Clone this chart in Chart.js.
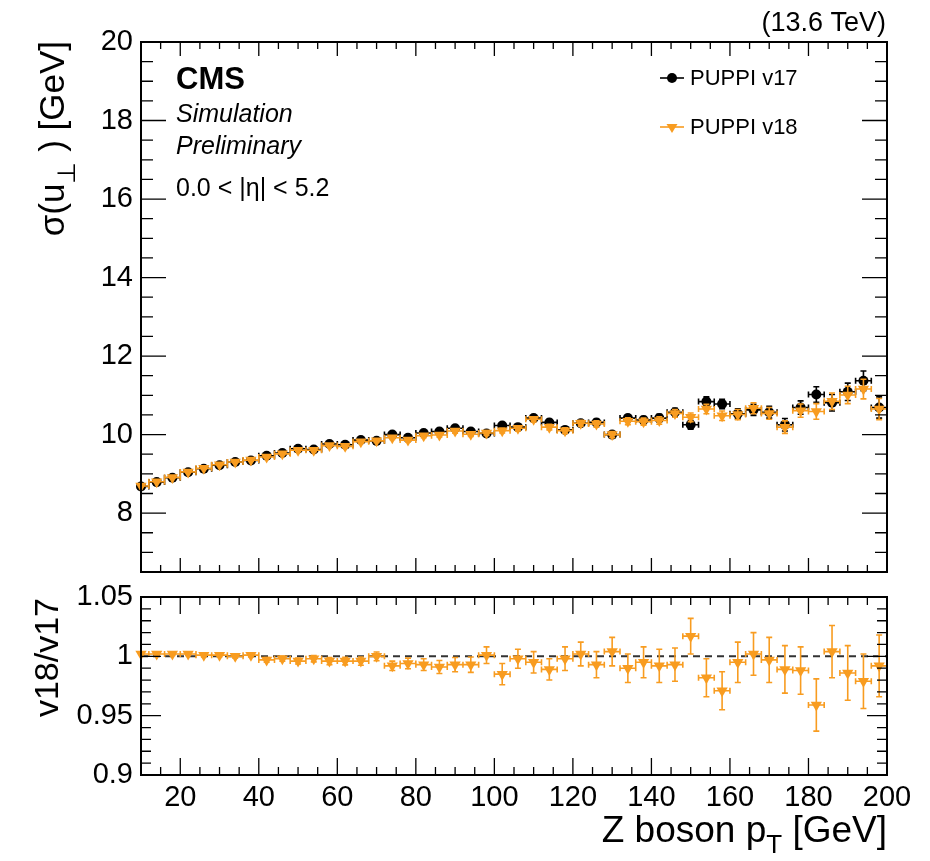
<!DOCTYPE html>
<html>
<head>
<meta charset="utf-8">
<script src="https://cdn.jsdelivr.net/npm/chart.js@4.4.1/dist/chart.umd.min.js"></script>
<style>
  html, body { margin: 0; padding: 0; background: #fff; }
  #wrap { position: relative; width: 930px; height: 861px; overflow: hidden; }
  #top { position: absolute; left: 0; top: 0; }
  #bottom { position: absolute; left: 0; top: 575px; }
</style>
</head>
<body>
<div id="wrap">
  <canvas id="top" width="930" height="590" style="width:930px;height:590px"></canvas>
  <canvas id="bottom" width="930" height="286" style="width:930px;height:286px"></canvas>
</div>
<script>
// Z boson pT bin centres (4 GeV bins)
const ptBins = [10, 14, 18, 22, 26, 30, 34, 38, 42, 46, 50, 54, 58, 62, 66, 70,
  74, 78, 82, 86, 90, 94, 98, 102, 106, 110, 114, 118, 122, 126, 130, 134,
  138, 142, 146, 150, 154, 158, 162, 166, 170, 174, 178, 182, 186, 190, 194, 198];
const binHalfWidth = 2;

// sigma(u_perp) [GeV]
const sigmaV17 = [8.68, 8.79, 8.90, 9.04, 9.13, 9.22, 9.30, 9.34, 9.46, 9.53, 9.64, 9.62,
  9.76, 9.74, 9.86, 9.84, 10.00, 9.92, 10.04, 10.08, 10.16, 10.08, 10.03, 10.23,
  10.19, 10.42, 10.31, 10.12, 10.29, 10.31, 10.00, 10.42, 10.37, 10.42, 10.57, 10.25,
  10.84, 10.78, 10.53, 10.63, 10.57, 10.25, 10.69, 11.02, 10.81, 11.09, 11.37, 10.69];
const sigmaErrV17 = [0.02, 0.02, 0.02, 0.02, 0.02, 0.02, 0.025, 0.025, 0.03, 0.03, 0.03, 0.035,
  0.035, 0.04, 0.04, 0.04, 0.045, 0.045, 0.05, 0.05, 0.055, 0.055, 0.06, 0.06,
  0.065, 0.065, 0.07, 0.07, 0.075, 0.08, 0.08, 0.085, 0.09, 0.095, 0.10, 0.11,
  0.12, 0.12, 0.13, 0.14, 0.15, 0.16, 0.17, 0.20, 0.21, 0.22, 0.25, 0.27];
const sigmaV18 = [8.69, 8.80, 8.91, 9.05, 9.14, 9.23, 9.30, 9.35, 9.43, 9.51, 9.60, 9.60,
  9.72, 9.70, 9.82, 9.84, 9.92, 9.86, 9.97, 9.99, 10.09, 10.01, 10.04, 10.10,
  10.16, 10.39, 10.19, 10.10, 10.29, 10.27, 10.00, 10.34, 10.33, 10.36, 10.54, 10.44,
  10.65, 10.48, 10.51, 10.67, 10.54, 10.19, 10.61, 10.59, 10.85, 11.01, 11.16, 10.65];
const sigmaErrV18 = [0.02, 0.02, 0.02, 0.02, 0.02, 0.02, 0.025, 0.025, 0.03, 0.03, 0.03, 0.035,
  0.035, 0.04, 0.04, 0.04, 0.045, 0.045, 0.05, 0.05, 0.055, 0.055, 0.06, 0.06,
  0.065, 0.065, 0.07, 0.07, 0.075, 0.08, 0.08, 0.085, 0.09, 0.095, 0.10, 0.11,
  0.12, 0.12, 0.13, 0.14, 0.15, 0.16, 0.17, 0.20, 0.21, 0.22, 0.25, 0.27];

// v18/v17
const ratio = [1.002, 1.002, 1.002, 1.002, 1.001, 1.001, 1.000, 1.001, 0.997, 0.998, 0.996, 0.998,
  0.996, 0.996, 0.996, 1.000, 0.992, 0.994, 0.993, 0.991, 0.993, 0.993, 1.001, 0.985,
  0.998, 0.995, 0.989, 0.998, 1.002, 0.993, 1.004, 0.990, 0.995, 0.992, 0.993, 1.017,
  0.982, 0.971, 0.995, 1.002, 0.997, 0.989, 0.988, 0.959, 1.004, 0.986, 0.979, 0.992];
const ratioErr = [0.001, 0.001, 0.0012, 0.0012, 0.0013, 0.0014, 0.0015, 0.0016, 0.002, 0.0022, 0.0025, 0.0027,
  0.003, 0.0032, 0.0035, 0.0037, 0.004, 0.0045, 0.005, 0.0055, 0.006, 0.0065, 0.007, 0.009,
  0.008, 0.009, 0.009, 0.010, 0.010, 0.011, 0.012, 0.012, 0.013, 0.014, 0.014, 0.015,
  0.016, 0.016, 0.017, 0.018, 0.019, 0.020, 0.020, 0.022, 0.022, 0.023, 0.023, 0.026];
const ratioRef = 1;

const xTicks = [20, 40, 60, 80, 100, 120, 140, 160, 180, 200];
const sigmaTicks = [8, 10, 12, 14, 16, 18, 20];
const ratioTicks = [0.9, 0.95, 1, 1.05];

const FONT = '"Liberation Sans", Arial, Helvetica, sans-serif';
const ORANGE = '#f89c20';

// error bars with end caps, drawn just before each dataset's markers
const errorBars = {
  id: 'errorBars',
  beforeDatasetDraw(chart, args) {
    const ds = chart.data.datasets[args.index];
    if (!ds.errY) return;
    const { ctx, chartArea: a, scales: { x, y } } = chart;
    const c = 3;
    ctx.save();
    ctx.beginPath();
    ctx.rect(a.left, a.top, a.right - a.left, a.bottom - a.top);
    ctx.clip();
    ctx.strokeStyle = ds.errColor;
    ctx.lineWidth = 1.6;
    ctx.beginPath();
    ds.data.forEach((p, i) => {
      const px = x.getPixelForValue(p.x), py = y.getPixelForValue(p.y);
      const x0 = x.getPixelForValue(p.x - ds.errX), x1 = x.getPixelForValue(p.x + ds.errX);
      const y0 = y.getPixelForValue(p.y - ds.errY[i]), y1 = y.getPixelForValue(p.y + ds.errY[i]);
      ctx.moveTo(x0, py); ctx.lineTo(x1, py);
      ctx.moveTo(x0, py - c); ctx.lineTo(x0, py + c);
      ctx.moveTo(x1, py - c); ctx.lineTo(x1, py + c);
      ctx.moveTo(px, y0); ctx.lineTo(px, y1);
      ctx.moveTo(px - c, y0); ctx.lineTo(px + c, y0);
      ctx.moveTo(px - c, y1); ctx.lineTo(px + c, y1);
    });
    ctx.stroke();
    ctx.restore();
  }
};

// ROOT style frame with inward ticks on all four sides
const rootFrame = {
  id: 'rootFrame',
  afterDatasetsDraw(chart, args, o) {
    const { ctx, chartArea: a, scales: { x, y } } = chart;
    const isMajor = (v, step) => Math.abs(v / step - Math.round(v / step)) < 1e-6;
    ctx.save();
    ctx.strokeStyle = '#000';
    ctx.lineWidth = 1.3;
    ctx.beginPath();
    const nx = Math.round((x.max - x.min) / o.xMinor);
    for (let i = 0; i <= nx; i++) {
      const v = x.min + i * o.xMinor;
      const len = isMajor(v, o.xMajor) ? o.xLen[0] : o.xLen[1];
      const px = x.getPixelForValue(v);
      ctx.moveTo(px, a.bottom); ctx.lineTo(px, a.bottom - len);
      ctx.moveTo(px, a.top); ctx.lineTo(px, a.top + len);
    }
    const ny = Math.round((y.max - y.min) / o.yMinor);
    for (let i = 0; i <= ny; i++) {
      const v = y.min + i * o.yMinor;
      const len = isMajor(v, o.yMajor) ? o.yLen[0] : o.yLen[1];
      const py = y.getPixelForValue(v);
      ctx.moveTo(a.left, py); ctx.lineTo(a.left + len, py);
      ctx.moveTo(a.right, py); ctx.lineTo(a.right - len, py);
    }
    ctx.stroke();
    ctx.lineWidth = 2;
    ctx.strokeRect(a.left, a.top, a.right - a.left, a.bottom - a.top);
    ctx.restore();
  }
};

// text with subscripts: parts = [[text, isSub], ...]
function drawParts(ctx, parts, size, alignRight) {
  const subSize = Math.round(size * 0.7);
  const widths = parts.map(([t, sub]) => {
    ctx.font = (sub ? subSize : size) + 'px ' + FONT;
    return ctx.measureText(t).width;
  });
  let x = alignRight ? -widths.reduce((s, w) => s + w, 0) : 0;
  parts.forEach(([t, sub], i) => {
    ctx.font = (sub ? subSize : size) + 'px ' + FONT;
    ctx.fillText(t, x, sub ? size * 0.3 : 0);
    x += widths[i];
  });
}

const topText = {
  id: 'topText',
  afterDraw(chart) {
    const ctx = chart.ctx;
    ctx.save();
    ctx.fillStyle = '#000';
    ctx.textBaseline = 'alphabetic';
    ctx.textAlign = 'left';
    ctx.font = 'bold 31px ' + FONT;
    ctx.fillText('CMS', 176, 89);
    ctx.font = 'italic 25px ' + FONT;
    ctx.fillText('Simulation', 176, 122);
    ctx.fillText('Preliminary', 176, 154);
    ctx.font = '25px ' + FONT;
    ctx.fillText('0.0 < |\u03b7| < 5.2', 176, 196);
    ctx.textAlign = 'right';
    ctx.font = '27px ' + FONT;
    ctx.fillText('(13.6 TeV)', 886, 31);

    // legend
    const items = [
      { y: 78, color: '#000', label: 'PUPPI v17', style: 'circle' },
      { y: 127, color: ORANGE, label: 'PUPPI v18', style: 'triangle' }
    ];
    items.forEach(it => {
      ctx.strokeStyle = it.color;
      ctx.fillStyle = it.color;
      ctx.lineWidth = 1.6;
      ctx.beginPath();
      ctx.moveTo(660, it.y); ctx.lineTo(684, it.y);
      ctx.stroke();
      ctx.beginPath();
      if (it.style === 'circle') {
        ctx.arc(672, it.y, 5, 0, Math.PI * 2);
      } else {
        ctx.moveTo(666.5, it.y - 3); ctx.lineTo(677.5, it.y - 3); ctx.lineTo(672, it.y + 6);
        ctx.closePath();
      }
      ctx.fill();
      ctx.fillStyle = '#000';
      ctx.textAlign = 'left';
      ctx.textBaseline = 'middle';
      ctx.font = '22px ' + FONT;
      ctx.fillText(it.label, 690, it.y + 1);
    });

    // y axis title
    ctx.textBaseline = 'alphabetic';
    ctx.textAlign = 'left';
    ctx.fillStyle = '#000';
    ctx.translate(64, 41);
    ctx.rotate(-Math.PI / 2);
    drawParts(ctx, [['\u03c3(u', false], ['\u22a5', true], [' ) [GeV]', false]], 35, true);
    ctx.restore();
  }
};

const bottomText = {
  id: 'bottomText',
  afterDraw(chart) {
    const ctx = chart.ctx;
    ctx.save();
    ctx.fillStyle = '#000';
    ctx.textBaseline = 'alphabetic';
    ctx.textAlign = 'left';
    ctx.save();
    ctx.translate(887, 267);
    drawParts(ctx, [['Z boson p', false], ['T', true], [' [GeV]', false]], 37, true);
    ctx.restore();
    ctx.translate(58, 23);
    ctx.rotate(-Math.PI / 2);
    drawParts(ctx, [['v18/v17', false]], 34, true);
    ctx.restore();
  }
};

const tickFont = { family: FONT, size: 29 };
const noScalePadding = s => { s.paddingTop = 0; s.paddingBottom = 0; s.paddingLeft = 0; s.paddingRight = 0; };

new Chart(document.getElementById('top'), {
  type: 'scatter',
  data: {
    datasets: [
      {
        label: 'PUPPI v17',
        data: ptBins.map((x, i) => ({ x, y: sigmaV17[i] })),
        errY: sigmaErrV17, errX: binHalfWidth, errColor: '#000',
        pointStyle: 'circle', pointRadius: 5, backgroundColor: '#000', borderWidth: 0,
        order: 2, clip: false
      },
      {
        label: 'PUPPI v18',
        data: ptBins.map((x, i) => ({ x, y: sigmaV18[i] })),
        errY: sigmaErrV18, errX: binHalfWidth, errColor: ORANGE,
        pointStyle: 'triangle', rotation: 180, pointRadius: 6.5, backgroundColor: ORANGE, borderWidth: 0,
        order: 1, clip: false
      }
    ]
  },
  options: {
    responsive: false,
    animation: false,
    layout: { autoPadding: false, padding: { left: 0, right: 43, top: 42, bottom: 18 } },
    plugins: {
      legend: { display: false },
      tooltip: { enabled: false },
      rootFrame: { xMinor: 5, xMajor: 20, xLen: [14, 7], yMinor: 0.5, yMajor: 2, yLen: [25, 12] }
    },
    scales: {
      x: { type: 'linear', min: 10, max: 200, display: false },
      y: {
        type: 'linear', min: 6.5, max: 20,
        afterFit(s) { s.width = 141; noScalePadding(s); },
        afterBuildTicks(s) { s.ticks = sigmaTicks.map(v => ({ value: v })); },
        grid: { display: false, drawTicks: false },
        border: { display: false },
        ticks: { padding: 8, font: tickFont, color: '#000', callback: v => String(v) }
      }
    }
  },
  plugins: [errorBars, rootFrame, topText]
});

new Chart(document.getElementById('bottom'), {
  type: 'scatter',
  data: {
    datasets: [
      {
        type: 'line',
        data: [{ x: 10, y: ratioRef }, { x: 200, y: ratioRef }],
        borderColor: '#333', borderWidth: 2, borderDash: [7, 5], pointRadius: 0,
        order: 5
      },
      {
        label: 'v18/v17',
        data: ptBins.map((x, i) => ({ x, y: ratio[i] })),
        errY: ratioErr, errX: binHalfWidth, errColor: ORANGE,
        pointStyle: 'triangle', rotation: 180, pointRadius: 6.5, backgroundColor: ORANGE, borderWidth: 0,
        order: 1, clip: false
      }
    ]
  },
  options: {
    responsive: false,
    animation: false,
    layout: { autoPadding: false, padding: { left: 0, right: 43, top: 22, bottom: 0 } },
    plugins: {
      legend: { display: false },
      tooltip: { enabled: false },
      rootFrame: { xMinor: 5, xMajor: 20, xLen: [17, 8], yMinor: 0.01, yMajor: 0.05, yLen: [20, 10] }
    },
    scales: {
      x: {
        type: 'linear', min: 10, max: 200,
        afterFit(s) { s.height = 86; noScalePadding(s); },
        afterBuildTicks(s) { s.ticks = xTicks.map(v => ({ value: v })); },
        grid: { display: false, drawTicks: false },
        border: { display: false },
        ticks: { padding: 6, font: tickFont, color: '#000', maxRotation: 0, autoSkip: false, callback: v => String(v) }
      },
      y: {
        type: 'linear', min: 0.9, max: 1.05,
        afterFit(s) { s.width = 141; noScalePadding(s); },
        afterBuildTicks(s) { s.ticks = ratioTicks.map(v => ({ value: v })); },
        grid: { display: false, drawTicks: false },
        border: { display: false },
        ticks: { padding: 8, font: tickFont, color: '#000', callback: v => String(v) }
      }
    }
  },
  plugins: [errorBars, rootFrame, bottomText]
});
</script>
</body>
</html>
